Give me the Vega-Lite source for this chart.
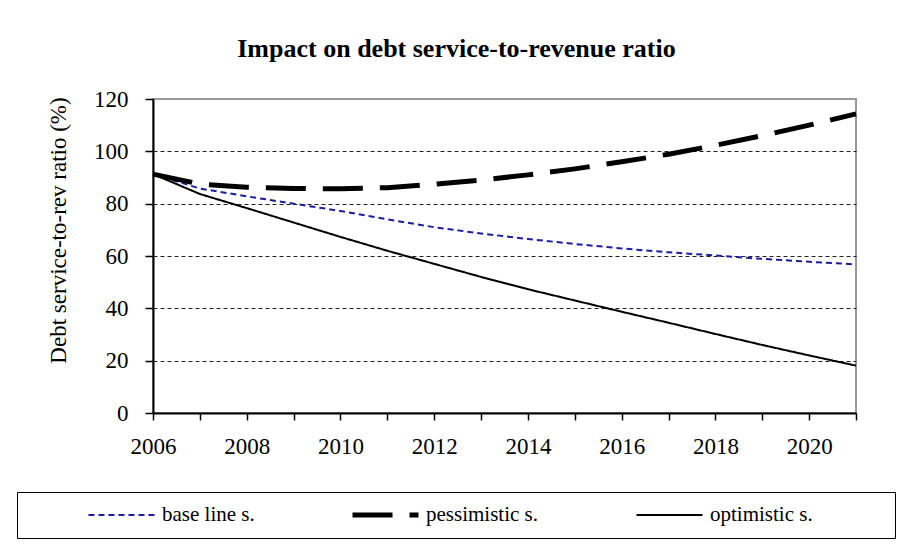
{
  "$schema": "https://vega.github.io/schema/vega-lite/v6.json",
  "width": 703,
  "height": 314,
  "autosize": {"type": "none"},
  "padding": {"left": 153, "top": 99, "right": 48, "bottom": 133},
  "background": "white",
  "title": {
    "text": "Impact on debt service-to-revenue ratio",
    "font": "Liberation Serif",
    "fontSize": 26,
    "fontWeight": "bold",
    "color": "black",
    "anchor": "middle",
    "frame": "group",
    "dx": -48,
    "offset": 5,
    "baseline": "alphabetic"
  },
  "data": {
    "values": [
      {"year": 2006, "scenario": "base line s.", "ratio": 91.3},
      {"year": 2007, "scenario": "base line s.", "ratio": 85.8},
      {"year": 2008, "scenario": "base line s.", "ratio": 82.8},
      {"year": 2009, "scenario": "base line s.", "ratio": 80.0},
      {"year": 2010, "scenario": "base line s.", "ratio": 77.2},
      {"year": 2011, "scenario": "base line s.", "ratio": 74.0},
      {"year": 2012, "scenario": "base line s.", "ratio": 71.0},
      {"year": 2013, "scenario": "base line s.", "ratio": 68.6},
      {"year": 2014, "scenario": "base line s.", "ratio": 66.5},
      {"year": 2015, "scenario": "base line s.", "ratio": 64.6},
      {"year": 2016, "scenario": "base line s.", "ratio": 62.9},
      {"year": 2017, "scenario": "base line s.", "ratio": 61.4},
      {"year": 2018, "scenario": "base line s.", "ratio": 60.2},
      {"year": 2019, "scenario": "base line s.", "ratio": 58.9},
      {"year": 2020, "scenario": "base line s.", "ratio": 57.8},
      {"year": 2021, "scenario": "base line s.", "ratio": 56.8},
      {"year": 2006, "scenario": "pessimistic s.", "ratio": 91.3},
      {"year": 2007, "scenario": "pessimistic s.", "ratio": 87.5},
      {"year": 2008, "scenario": "pessimistic s.", "ratio": 86.3},
      {"year": 2009, "scenario": "pessimistic s.", "ratio": 85.8},
      {"year": 2010, "scenario": "pessimistic s.", "ratio": 85.7},
      {"year": 2011, "scenario": "pessimistic s.", "ratio": 86.1},
      {"year": 2012, "scenario": "pessimistic s.", "ratio": 87.4},
      {"year": 2013, "scenario": "pessimistic s.", "ratio": 89.0},
      {"year": 2014, "scenario": "pessimistic s.", "ratio": 91.0},
      {"year": 2015, "scenario": "pessimistic s.", "ratio": 93.3},
      {"year": 2016, "scenario": "pessimistic s.", "ratio": 96.0},
      {"year": 2017, "scenario": "pessimistic s.", "ratio": 98.9},
      {"year": 2018, "scenario": "pessimistic s.", "ratio": 102.3},
      {"year": 2019, "scenario": "pessimistic s.", "ratio": 106.0},
      {"year": 2020, "scenario": "pessimistic s.", "ratio": 110.0},
      {"year": 2021, "scenario": "pessimistic s.", "ratio": 114.3},
      {"year": 2006, "scenario": "optimistic s.", "ratio": 91.3},
      {"year": 2007, "scenario": "optimistic s.", "ratio": 83.7},
      {"year": 2008, "scenario": "optimistic s.", "ratio": 78.3},
      {"year": 2009, "scenario": "optimistic s.", "ratio": 72.8},
      {"year": 2010, "scenario": "optimistic s.", "ratio": 67.3},
      {"year": 2011, "scenario": "optimistic s.", "ratio": 62.0},
      {"year": 2012, "scenario": "optimistic s.", "ratio": 57.0},
      {"year": 2013, "scenario": "optimistic s.", "ratio": 52.0},
      {"year": 2014, "scenario": "optimistic s.", "ratio": 47.3},
      {"year": 2015, "scenario": "optimistic s.", "ratio": 43.0},
      {"year": 2016, "scenario": "optimistic s.", "ratio": 38.7},
      {"year": 2017, "scenario": "optimistic s.", "ratio": 34.5},
      {"year": 2018, "scenario": "optimistic s.", "ratio": 30.2},
      {"year": 2019, "scenario": "optimistic s.", "ratio": 26.0},
      {"year": 2020, "scenario": "optimistic s.", "ratio": 22.0},
      {"year": 2021, "scenario": "optimistic s.", "ratio": 18.1}
    ]
  },
  "mark": {"type": "line", "clip": false},
  "encoding": {
    "x": {
      "field": "year",
      "type": "quantitative",
      "scale": {"domain": [2006, 2021], "nice": false, "zero": false},
      "axis": {
        "title": null,
        "values": [2006, 2007, 2008, 2009, 2010, 2011, 2012, 2013, 2014, 2015, 2016, 2017, 2018, 2019, 2020, 2021],
        "labelExpr": "datum.value % 2 == 0 ? datum.value : ''",
        "grid": false,
        "domainColor": "black",
        "domainWidth": 2,
        "tickColor": "black",
        "tickWidth": 1.5,
        "tickSize": 7,
        "labelPadding": 15,
        "labelFont": "Liberation Serif",
        "labelFontSize": 23,
        "labelColor": "black",
        "labelFlush": false,
        "labelOverlap": false
      }
    },
    "y": {
      "field": "ratio",
      "type": "quantitative",
      "scale": {"domain": [0, 120], "nice": false},
      "axis": {
        "title": "Debt service-to-rev ratio (%)",
        "titleFont": "Liberation Serif",
        "titleFontSize": 23,
        "titleFontWeight": "normal",
        "titleColor": "black",
        "titleX": -95,
        "titleY": 131,
        "titleAngle": -90,
        "titleAlign": "center",
        "titleBaseline": "middle",
        "values": [0, 20, 40, 60, 80, 100, 120],
        "grid": true,
        "gridDash": [4, 3],
        "gridColor": {"condition": {"test": "datum.value >= 120 || datum.value <= 0", "value": "transparent"}, "value": "#222222"},
        "gridWidth": 1,
        "domainColor": "black",
        "domainWidth": 2,
        "tickColor": "black",
        "tickWidth": 1.5,
        "tickSize": 8,
        "labelPadding": 17,
        "labelFont": "Liberation Serif",
        "labelFontSize": 23,
        "labelColor": "black"
      }
    },
    "color": {
      "field": "scenario",
      "type": "nominal",
      "scale": {"domain": ["base line s.", "pessimistic s.", "optimistic s."], "range": ["#1c1ca0", "#000000", "#000000"]},
      "legend": {
        "title": " ",
        "titleOrient": "right",
        "titlePadding": 70,
        "titleFontSize": 10,
        "orient": "none",
        "legendX": -136,
        "legendY": 393,
        "direction": "horizontal",
        "columns": 3,
        "strokeColor": "black",
        "padding": 12,
        "clipHeight": 22,
        "symbolType": "stroke",
        "symbolSize": 4356,
        "symbolOffset": 57,
        "labelOffset": 5,
        "columnPadding": 38,
        "labelFont": "Liberation Serif",
        "labelFontSize": 21,
        "labelColor": "black",
        "labelLimit": 300
      }
    },
    "strokeDash": {
      "field": "scenario",
      "type": "nominal",
      "scale": {"domain": ["base line s.", "pessimistic s.", "optimistic s."], "range": [[6, 4], [40, 17], [1, 0]]}
    },
    "strokeWidth": {
      "field": "scenario",
      "type": "nominal",
      "scale": {"type": "ordinal", "domain": ["base line s.", "pessimistic s.", "optimistic s."], "range": [2, 5, 2]}
    }
  },
  "config": {
    "view": {"stroke": "#999999", "strokeWidth": 2},
    "font": "Liberation Serif",
    "legend": {"titleOrient": "right"}
  }
}
